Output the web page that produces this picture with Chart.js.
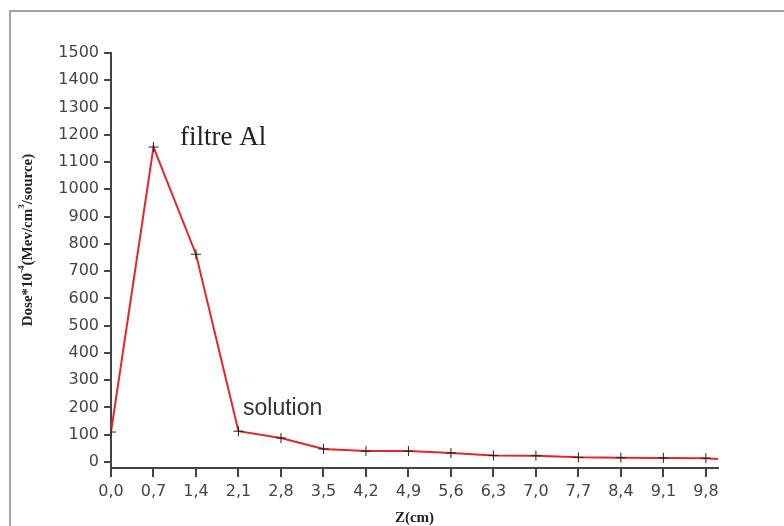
<!DOCTYPE html>
<html>
<head>
<meta charset="utf-8">
<script src="https://cdn.jsdelivr.net/npm/chart.js@4/dist/chart.umd.min.js"></script>
<style>
  html, body { margin: 0; padding: 0; background: #fff; }
  #wrap { position: relative; width: 784px; height: 526px; overflow: hidden; }
  #frame {
    position: absolute; left: 9px; top: 10px; width: 800px; height: 540px;
    border-left: 2px solid #a4a4a4; border-top: 2px solid #a4a4a4;
  }
  canvas { position: absolute; left: 0; top: 0; }
</style>
</head>
<body>
<div id="wrap">
  <div id="frame"></div>
  <canvas id="chart" width="784" height="526"></canvas>
</div>
<script>
// depth Z (cm) and dose values
const depthCm = [0.0, 0.7, 1.4, 2.1, 2.8, 3.5, 4.2, 4.9, 5.6, 6.3, 7.0, 7.7, 8.4, 9.1, 9.8, 10.0];
const doseValues = [110, 1155, 762, 113, 88, 48, 40, 40, 33, 24, 23, 17, 16, 15, 14, 11];
const yTicks = [0, 100, 200, 300, 400, 500, 600, 700, 800, 900, 1000, 1100, 1200, 1300, 1400, 1500];
const xTicks = [0.0, 0.7, 1.4, 2.1, 2.8, 3.5, 4.2, 4.9, 5.6, 6.3, 7.0, 7.7, 8.4, 9.1, 9.8];
const xTickLabels = ["0,0", "0,7", "1,4", "2,1", "2,8", "3,5", "4,2", "4,9", "5,6", "6,3", "7,0", "7,7", "8,4", "9,1", "9,8"];

const labelsPlugin = {
  id: "labels",
  afterDraw(chart) {
    const ctx = chart.ctx;
    const x = chart.scales.x;
    ctx.save();
    ctx.fillStyle = "#222";
    ctx.textBaseline = "alphabetic";

    ctx.font = "27px 'Liberation Serif', serif";
    ctx.textAlign = "left";
    ctx.fillText("filtre Al", 180, 145);

    ctx.font = "23px 'Liberation Sans', Arial, sans-serif";
    ctx.fillStyle = "#333";
    ctx.fillText("solution", 243, 415);

    // x title
    ctx.fillStyle = "#222";
    ctx.font = "bold 15px 'Liberation Serif', serif";
    ctx.textAlign = "center";
    ctx.fillText("Z(cm)", (x.left + x.right) / 2, 522);

    // y title, rotated, with superscripts
    ctx.translate(32, 240);
    ctx.rotate(-Math.PI / 2);
    const parts = [
      ["Dose*10", false], ["-4", true], ["(Mev/cm", false], ["3", true], ["/source)", false],
    ];
    const big = "bold 15px 'Liberation Serif', serif";
    const small = "bold 9px 'Liberation Serif', serif";
    let total = 0;
    parts.forEach(([t, sup]) => { ctx.font = sup ? small : big; total += ctx.measureText(t).width; });
    let cx = -total / 2;
    ctx.textAlign = "left";
    parts.forEach(([t, sup]) => {
      ctx.font = sup ? small : big;
      ctx.fillText(t, cx, sup ? -8 : 0);
      cx += ctx.measureText(t).width;
    });
    ctx.restore();
  },
};

new Chart(document.getElementById("chart"), {
  type: "line",
  data: {
    datasets: [
      {
        data: depthCm.map((z, i) => ({ x: z, y: doseValues[i] })),
        borderColor: "#e8232b",
        borderWidth: 2,
        tension: 0,
        pointStyle: "cross",
        pointRadius: (c) => (c.dataIndex === depthCm.length - 1 ? 0 : 5),
        pointBorderColor: "#222",
        pointBorderWidth: 1,
        pointBackgroundColor: "#222",
      },
    ],
  },
  options: {
    responsive: false,
    animation: false,
    layout: { padding: { top: 53, right: 66, left: 0, bottom: 0 } },
    plugins: { legend: { display: false }, tooltip: { enabled: false } },
    scales: {
      x: {
        type: "linear",
        min: 0,
        max: 10.0,
        grid: { drawOnChartArea: false, drawTicks: true, tickLength: 9, color: "#444", lineWidth: 2 },
        border: { color: "#444", width: 2 },
        afterBuildTicks: (s) => { s.ticks = xTicks.map((v) => ({ value: v })); },
        afterFit: (s) => { s.height = 58; },
        ticks: {
          autoSkip: false,
          maxRotation: 0,
          color: "#444",
          padding: 5,
          font: { family: "'DejaVu Sans', sans-serif", size: 16 },
          callback: (v, i) => xTickLabels[i],
        },
      },
      y: {
        min: -22,
        max: 1500,
        grid: { drawOnChartArea: false, drawTicks: true, tickLength: 7, color: "#444", lineWidth: 2 },
        border: { color: "#444", width: 2 },
        afterBuildTicks: (s) => { s.ticks = yTicks.map((v) => ({ value: v })); },
        afterFit: (s) => { s.width = 111; },
        ticks: {
          autoSkip: false,
          color: "#444",
          padding: 5,
          font: { family: "'DejaVu Sans', sans-serif", size: 16 },
          callback: (v) => String(v),
        },
      },
    },
  },
  plugins: [labelsPlugin],
});
</script>
</body>
</html>
